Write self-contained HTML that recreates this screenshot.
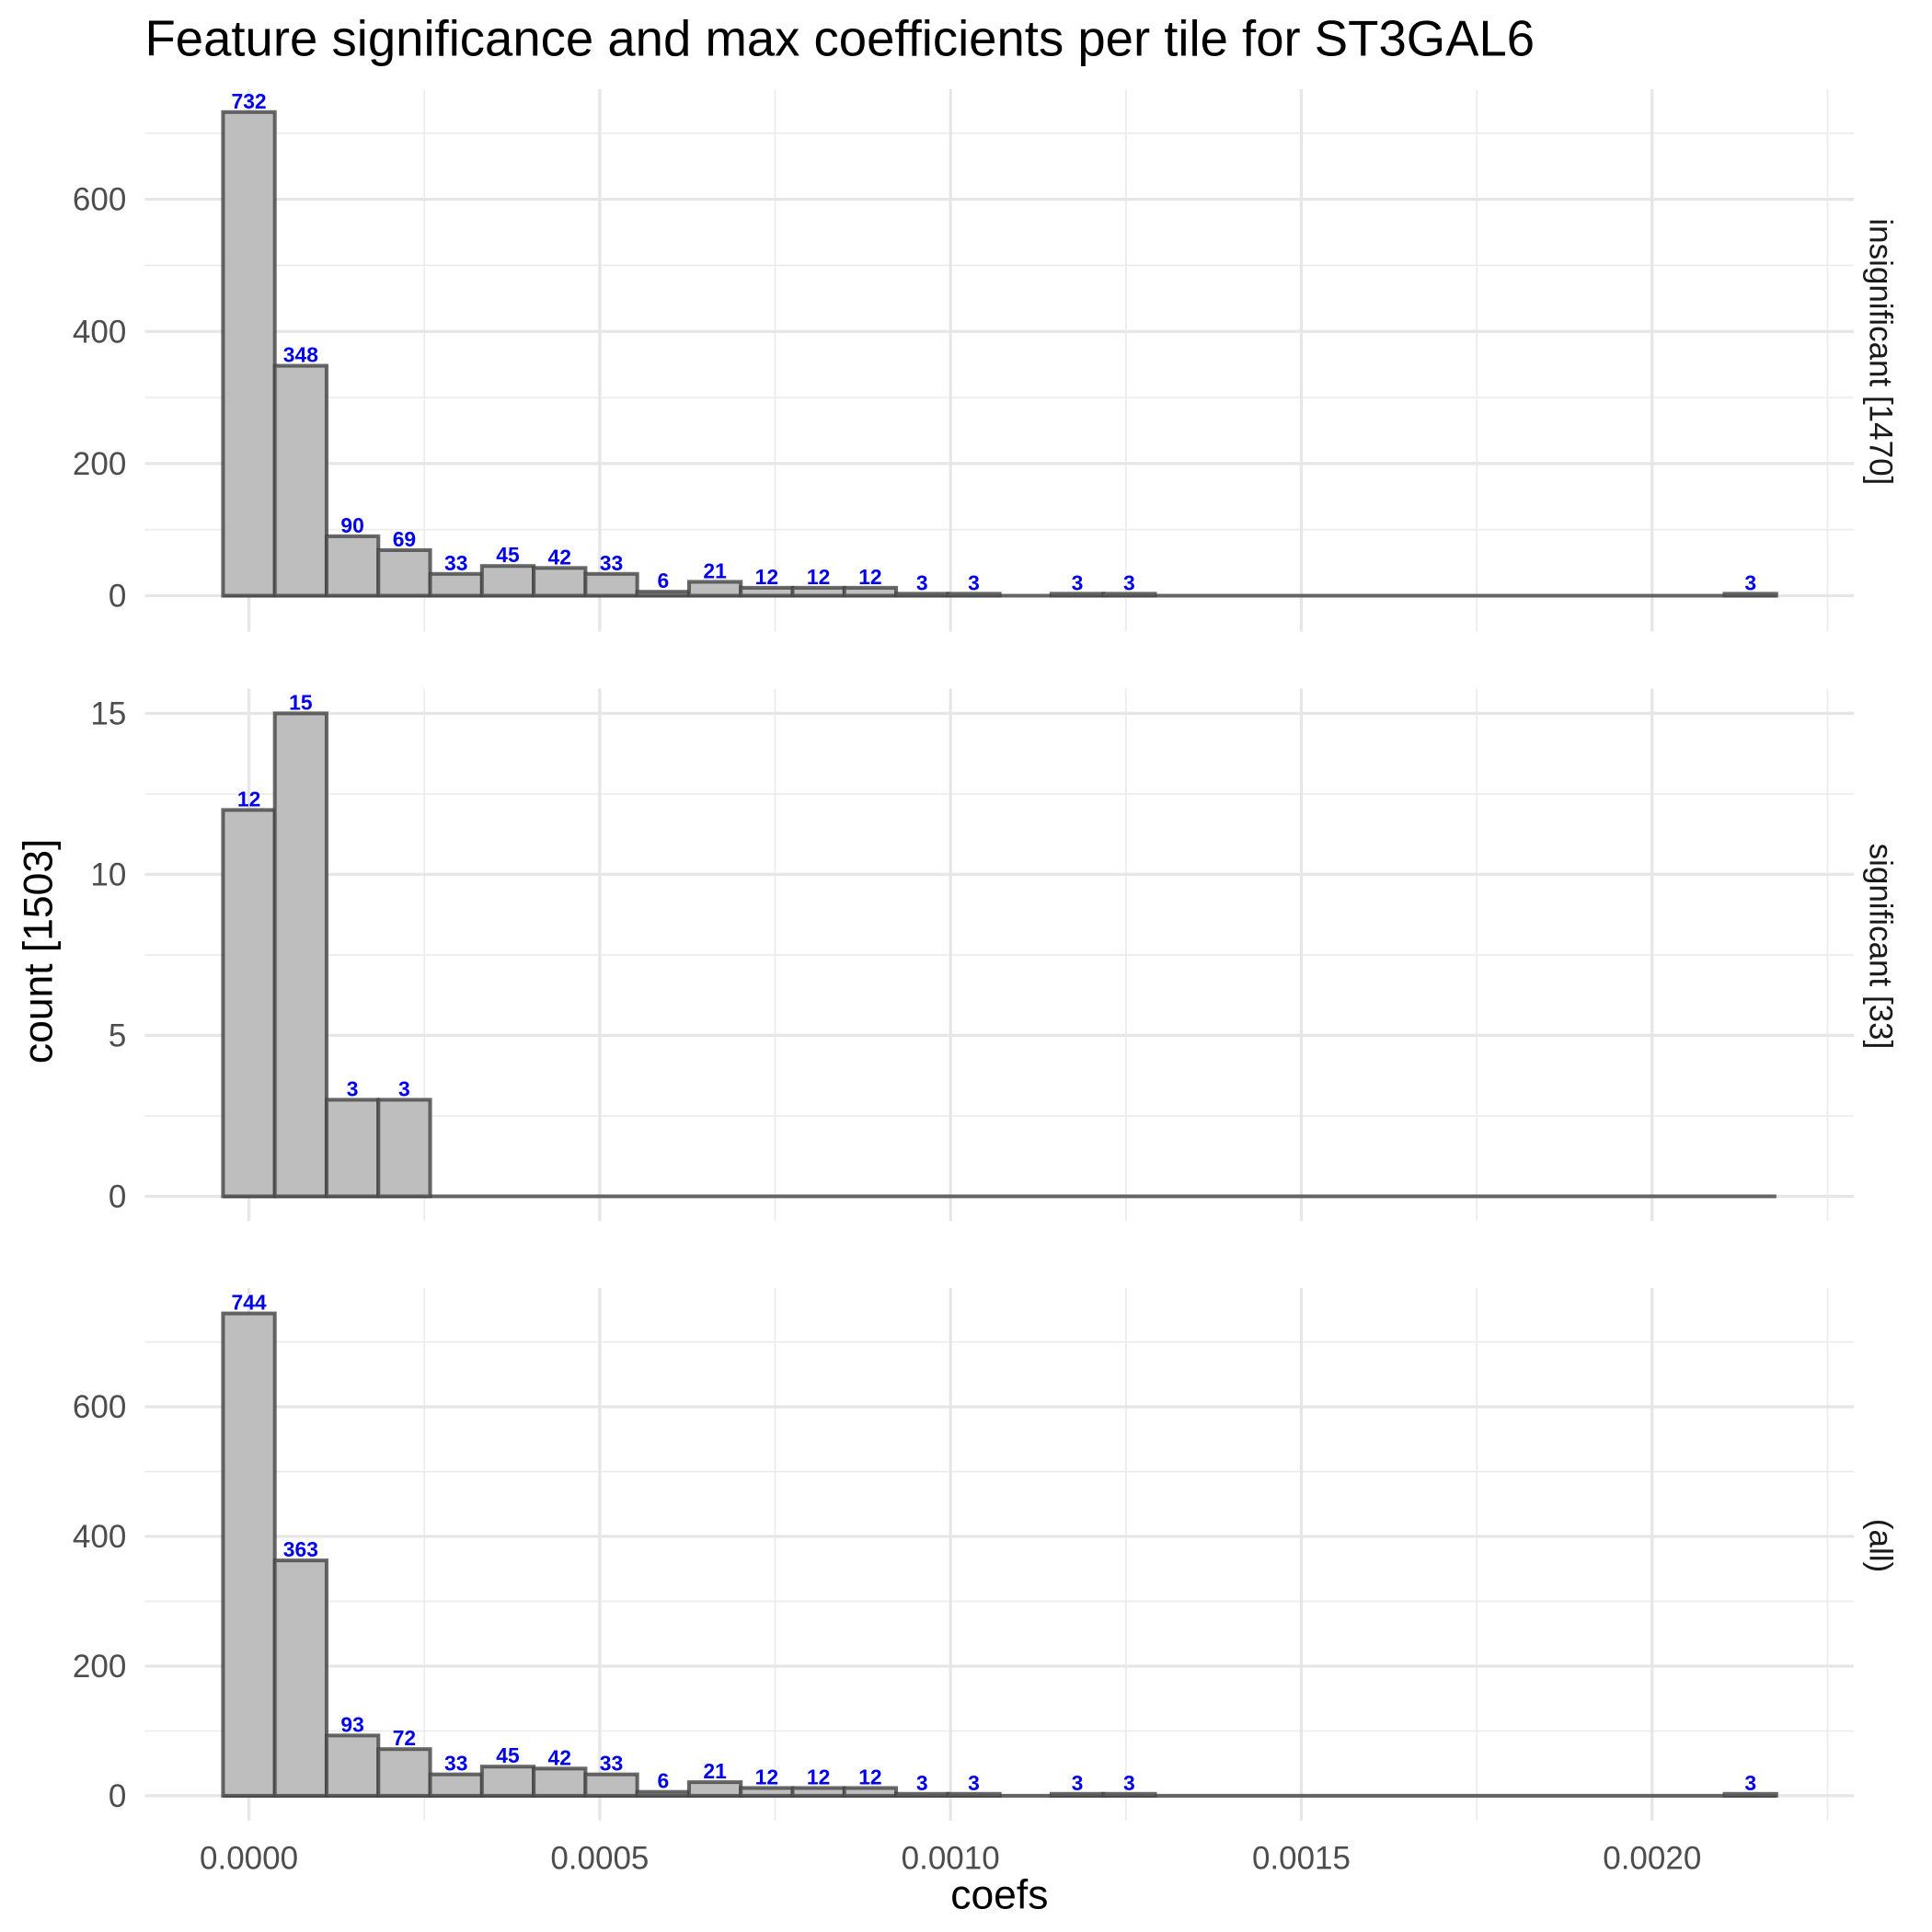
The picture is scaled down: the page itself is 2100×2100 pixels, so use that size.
<!DOCTYPE html>
<html><head><meta charset="utf-8"><style>html,body{margin:0;padding:0;background:#fff}svg{display:block}</style></head>
<body>
<svg id="chart" width="2100" height="2100" viewBox="0 0 1560 1560" xmlns="http://www.w3.org/2000/svg" font-family="Liberation Sans, sans-serif">
<rect width="1560" height="1560" fill="#fff"/>
<text x="117" y="45" font-size="40.5" fill="#000">Feature significance and max coefficients per tile for ST3GAL6</text>
<text transform="translate(42,768) rotate(-90)" text-anchor="middle" font-size="33" fill="#000">count [1503]</text>
<text x="807" y="1541" text-anchor="middle" font-size="33" fill="#000">coefs</text>
<g id="plot"></g>
</svg>
<script>
const binWidth = 0.0000738;
const binCount = 30;
const countsInsig = [732,348,90,69,33,45,42,33,6,21,12,12,12,3,3,0,3,3,0,0,0,0,0,0,0,0,0,0,0,3];
const countsSig = [12,15,3,3,0,0,0,0,0,0,0,0,0,0,0,0,0,0,0,0,0,0,0,0,0,0,0,0,0,0];
const countsAll = [744,363,93,72,33,45,42,33,6,21,12,12,12,3,3,0,3,3,0,0,0,0,0,0,0,0,0,0,0,3];
const xTicks = [0,0.0005,0.001,0.0015,0.002];
const xTickLabels = ["0.0000","0.0005","0.0010","0.0015","0.0020"];
const stripLabels = ["insignificant [1470]","significant [33]","(all)"];
const yTicksBig = [0,200,400,600];
const yTicksSmall = [0,5,10,15];

const NS = "http://www.w3.org/2000/svg";
const plot = document.getElementById('plot');
function mk(tag, attrs, parent){const e=document.createElementNS(NS,tag);for(const k in attrs)e.setAttribute(k,attrs[k]);(parent||plot).appendChild(e);return e;}
const xL=117, xR=1497;
function xs(v){return 201 + v/0.001*566.5;}

const panels = [
 {counts:countsInsig, top:72, bottom:510, y0:481, perUnit:106.7/200, ticks:yTicksBig, minorStep:100, max:760, name:'insignificant'},
 {counts:countsSig, top:556, bottom:986, y0:966, perUnit:130/5, ticks:yTicksSmall, minorStep:2.5, max:15.5, name:'significant'},
 {counts:countsAll, top:1040, bottom:1470, y0:1450, perUnit:104.7/200, ticks:yTicksBig, minorStep:100, max:770, name:'all'}
];

panels.forEach((p,pi)=>{
  const g = mk('g',{});
  
  
  const ys = v => p.y0 - v*p.perUnit;
  for(let v=p.minorStep; v<=p.max; v+=p.minorStep*2){
    const l=mk('line',{x1:xL,x2:xR,y1:ys(v),y2:ys(v),stroke:'#ebebeb','stroke-width':1.2},g);
    
    
  }
  for(let v=0.00025; v<0.0023; v+=0.0005){
    const l=mk('line',{x1:xs(v),x2:xs(v),y1:p.top,y2:p.bottom,stroke:'#ebebeb','stroke-width':1.2},g);
    
    
  }
  p.ticks.forEach(v=>{
    const l=mk('line',{x1:xL,x2:xR,y1:ys(v),y2:ys(v),stroke:'#e6e6e6','stroke-width':2.4},g);
    
    
    const t=mk('text',{x:102,y:ys(v)+9,'text-anchor':'end','font-size':26,fill:'#4d4d4d'},g);
    t.textContent=v;
    
    
  });
  xTicks.forEach(v=>{
    const l=mk('line',{x1:xs(v),x2:xs(v),y1:p.top,y2:p.bottom,stroke:'#e6e6e6','stroke-width':2.4},g);
    
    
  });
  const bl = mk('line',{x1:xs(-binWidth/2),x2:xs((binCount-0.5)*binWidth),y1:p.y0,y2:p.y0,stroke:'#444','stroke-opacity':0.8,'stroke-width':3},g);
  
  
  p.counts.forEach((c,i)=>{
    const cx = i*binWidth;
    const x1 = xs(cx-binWidth/2), x2 = xs(cx+binWidth/2);
    if(c<=0) return;
    const r = mk('rect',{x:x1,y:ys(c),width:x2-x1,height:Math.max(0.5,p.y0-ys(c)),fill:'#bebebe',stroke:'#444','stroke-opacity':0.8,'stroke-width':3},g);
    
    
    const t=mk('text',{x:(x1+x2)/2,y:ys(c)-3,'text-anchor':'middle','font-size':17,'font-weight':'bold',fill:'#0000ee'},g);
    t.textContent=c;
    
    
  });
  const st=mk('text',{transform:`translate(1510,${(p.top+p.bottom)/2 - 7}) rotate(90)`,'text-anchor':'middle','font-size':26,fill:'#1a1a1a'},g);
  st.textContent=stripLabels[pi];
  
  
});
xTicks.forEach((v,i)=>{
  const t=mk('text',{x:xs(v),y:1509,'text-anchor':'middle','font-size':26,fill:'#4d4d4d'});
  t.textContent=xTickLabels[i];
  
  
});
</script>
</body></html>
